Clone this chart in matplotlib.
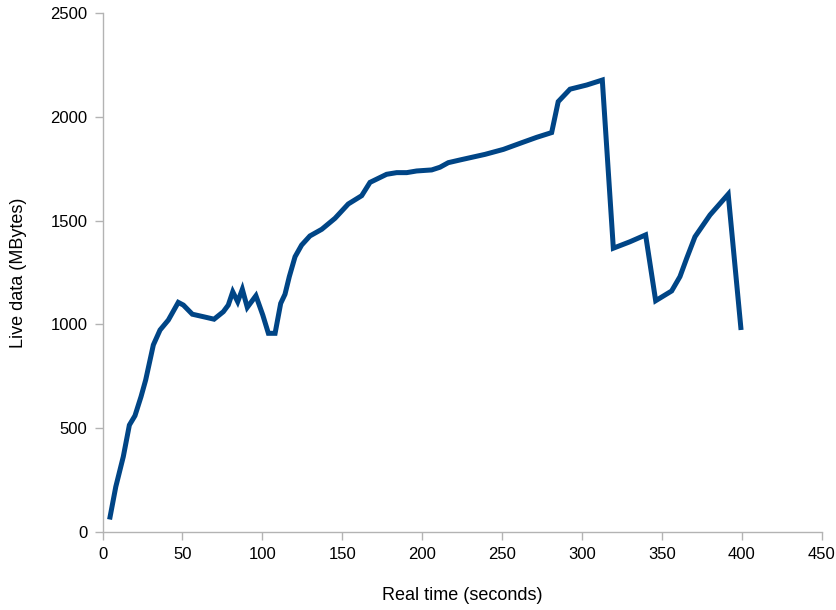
import matplotlib.pyplot as plt

# Live data over time
time_s = [4.7, 8.3, 13.0, 16.8, 20.3, 24.1, 27.0, 31.8, 36.0, 41.2, 47.4, 50.6,
          56.2, 63.1, 69.8, 75.6, 78.7, 81.5, 84.6, 87.5, 90.6, 96.0, 100.3,
          103.8, 108.0, 111.5, 114.2, 116.9, 120.5, 124.6, 129.8, 137.2, 145.5,
          153.8, 162.2, 167.4, 177.8, 184.1, 190.4, 196.6, 206.0, 211.2, 216.4,
          223.7, 239.4, 250.9, 262.3, 271.7, 281.1, 285.2, 292.6, 303.0, 312.8,
          319.7, 330.1, 339.9, 346.2, 356.2, 361.4, 365.6, 370.8, 380.2, 391.6,
          399.5]
live_mb = [72, 218, 363, 515, 560, 652, 732, 901, 973, 1021, 1106, 1093,
           1049, 1037, 1025, 1061, 1093, 1157, 1109, 1169, 1082, 1138, 1045,
           957, 957, 1101, 1145, 1230, 1326, 1382, 1426, 1458, 1511,
           1580, 1620, 1684, 1723, 1731, 1731, 1739, 1744, 1757, 1779,
           1792, 1819, 1843, 1875, 1901, 1924, 2073, 2133, 2153, 2177,
           1367, 1398, 1431, 1114, 1161, 1230, 1318, 1422, 1527, 1627,
           985]

x_ticks = list(range(0, 451, 50))
y_ticks = list(range(0, 2501, 500))


def main() -> None:
    plt.rcParams.update({"font.family": ["Liberation Sans", "DejaVu Sans"]})
    fig = plt.figure(figsize=(8.37, 6.10), dpi=100)
    fig.patch.set_facecolor("white")
    ax = fig.add_axes((0.1225, 0.1279, 0.859, 0.8508))

    ax.plot(time_s, live_mb, color="#004586", linewidth=3.6, solid_joinstyle="miter")

    ax.set_xlim(0, 450)
    ax.set_ylim(0, 2500)
    ax.set_xticks(x_ticks)
    ax.set_yticks(y_ticks)

    for side in ("top", "right"):
        ax.spines[side].set_visible(False)
    for side in ("left", "bottom"):
        ax.spines[side].set_color("#b3b3b3")
        ax.spines[side].set_linewidth(1.0)

    ax.tick_params(axis="both", direction="out", length=6, width=1.0,
                   color="#b3b3b3", labelsize=12, labelcolor="black", pad=5)

    ax.set_xlabel("Real time (seconds)", fontsize=13, labelpad=18)
    ax.set_ylabel("Live data (MBytes)", fontsize=13, labelpad=17)

    fig.savefig("out.png", dpi=100)


if __name__ == "__main__":
    main()
